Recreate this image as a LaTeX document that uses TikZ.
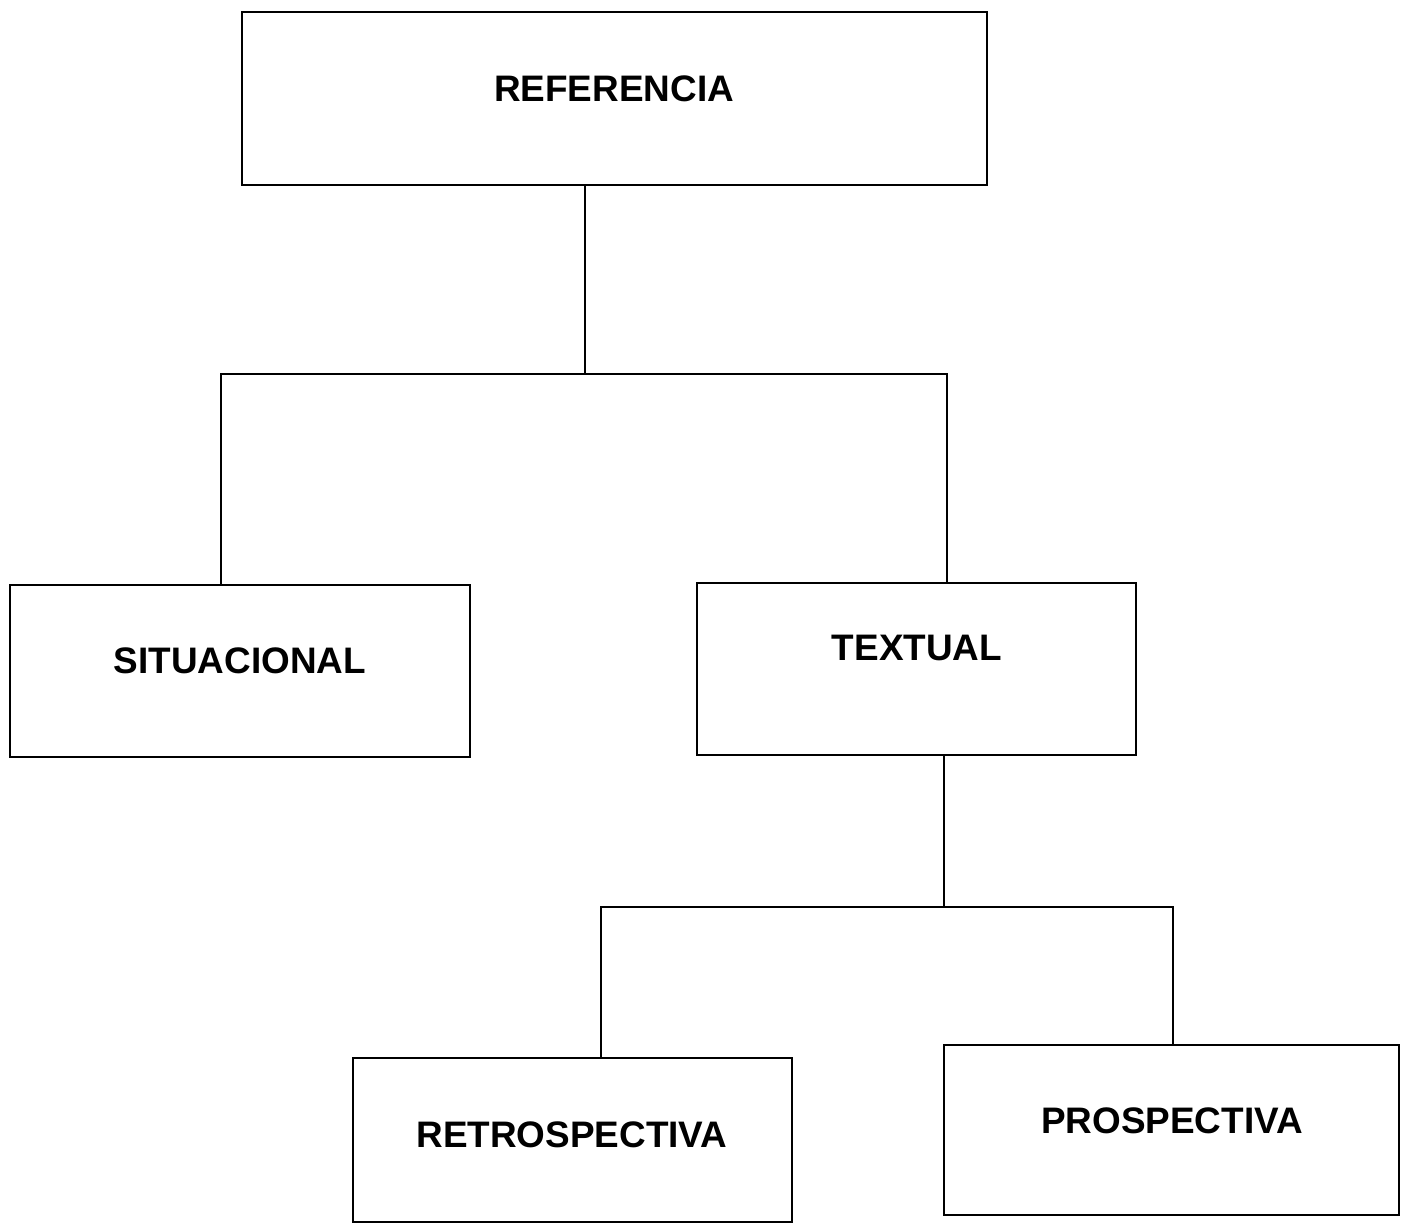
\documentclass[tikz,border=0pt]{standalone}
\usepackage{fontspec}
\setmainfont{Liberation Sans}
\begin{document}
\begin{tikzpicture}[x=0.02cm,y=-0.02cm,
  box/.style={draw=black,line width=1.4pt,inner sep=0pt,outer sep=0pt},
  lbl/.style={inner sep=0pt,font=\fontsize{21}{25}\selectfont\bfseries},
  conn/.style={draw=black,line width=1.3pt}]
\useasboundingbox (0,0) rectangle (1401,1228);
% boxes
\node[box,minimum width=14.9cm,minimum height=3.46cm] (ref) at (614.5,98.5) {};
\node[box,minimum width=9.2cm,minimum height=3.44cm] (sit) at (240,671) {};
\node[box,minimum width=8.78cm,minimum height=3.44cm] (tex) at (916.5,669) {};
\node[box,minimum width=8.78cm,minimum height=3.28cm] (ret) at (572.5,1140) {};
\node[box,minimum width=9.1cm,minimum height=3.4cm] (pro) at (1171.5,1130) {};
% labels
\node[lbl] (refT) at (614,89) {REFERENCIA};
\node[lbl] (sitT) at (240,661) {SITUACIONAL};
\node[lbl] (texT) at (917,648) {TEXTUAL};
\node[lbl] (retT) at (572,1135) {RETROSPECTIVA};
\node[lbl] (proT) at (1172,1121) {PROSPECTIVA};
% junctions
\coordinate (j1) at (585,374);
\coordinate (s1) at (221,374);
\coordinate (t1) at (947,374);
\coordinate (j2) at (944,907);
\coordinate (r2) at (601,907);
\coordinate (p2) at (1173,907);
% connectors
\draw[conn] (ref.south -| j1) -- (j1);
\draw[conn] (sit.north -| s1) -- (s1) -- (t1) -- (tex.north -| t1);
\draw[conn] (tex.south -| j2) -- (j2);
\draw[conn] (ret.north -| r2) -- (r2) -- (p2) -- (pro.north -| p2);
\end{tikzpicture}
\end{document}
